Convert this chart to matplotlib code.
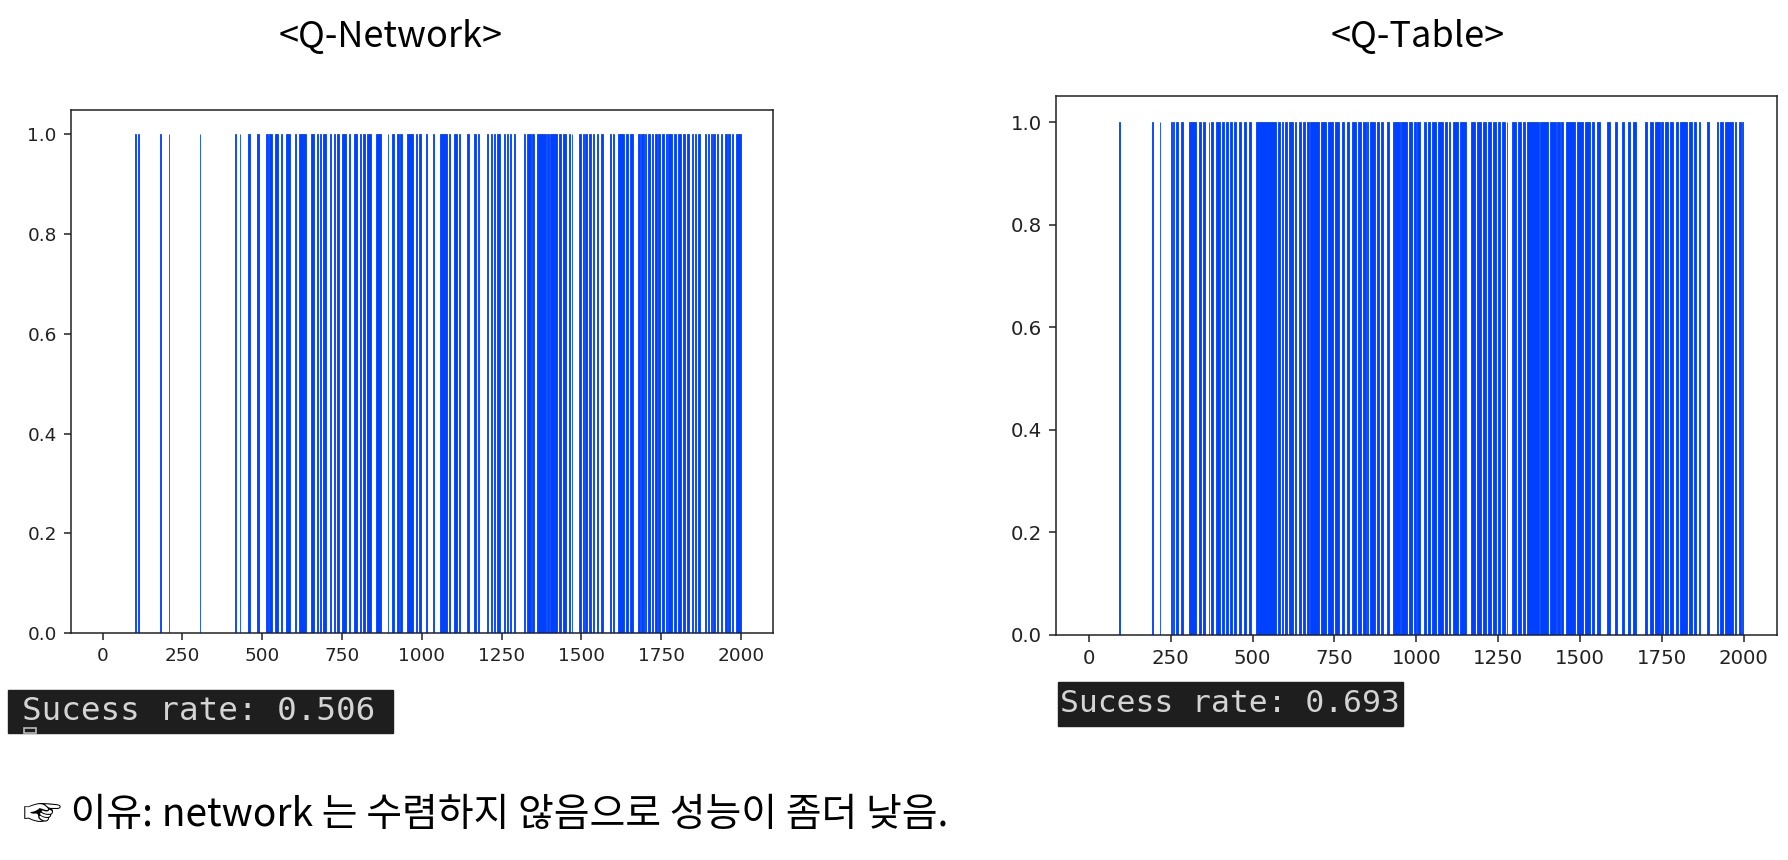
import numpy as np
import matplotlib.pyplot as plt
from matplotlib.patches import Rectangle

# success episodes, as runs (first, last episode)
qn_start = [103, 112, 180, 207, 305, 415, 430, 456, 484, 513, 523, 540, 558, 576, 603, 616,
            652, 672, 681, 691, 713, 726, 735, 751, 771, 789, 807, 817, 828, 857, 893, 908,
            922, 933, 954, 982, 993, 1012, 1034, 1056, 1085, 1100, 1116, 1141, 1163, 1176,
            1203, 1216, 1226, 1237, 1257, 1266, 1276, 1289, 1319, 1331, 1347, 1361, 1392,
            1403, 1429, 1443, 1462, 1470, 1494, 1505, 1513, 1524, 1536, 1549, 1562, 1589,
            1599, 1615, 1641, 1654, 1676, 1688, 1699, 1709, 1720, 1730, 1741, 1753, 1764,
            1772, 1791, 1804, 1820, 1832, 1846, 1856, 1867, 1886, 1896, 1906, 1914, 1924,
            1937, 1949, 1961, 1971, 1984]
qn_end = [104, 113, 181, 208, 306, 416, 431, 461, 488, 517, 529, 548, 563, 586, 606, 637,
          663, 675, 684, 698, 716, 729, 739, 763, 773, 796, 810, 820, 841, 871, 895, 911,
          927, 938, 973, 985, 996, 1015, 1037, 1078, 1088, 1109, 1119, 1148, 1169, 1179,
          1206, 1219, 1230, 1243, 1260, 1268, 1279, 1292, 1324, 1340, 1350, 1387, 1398,
          1422, 1437, 1450, 1463, 1471, 1497, 1508, 1518, 1529, 1539, 1552, 1566, 1591,
          1601, 1634, 1646, 1660, 1682, 1694, 1703, 1714, 1724, 1736, 1745, 1758, 1766,
          1784, 1795, 1812, 1823, 1837, 1850, 1859, 1871, 1890, 1899, 1909, 1917, 1928,
          1940, 1954, 1964, 1974, 1999]

qt_start = [94, 195, 217, 250, 258, 268, 281, 306, 337, 349, 366, 374, 388, 408, 419, 431,
            444, 459, 474, 489, 512, 578, 589, 599, 612, 629, 643, 655, 667, 677, 709, 731,
            751, 773, 788, 803, 823, 838, 851, 859, 879, 894, 910, 930, 955, 979, 993, 1004,
            1025, 1035, 1047, 1067, 1088, 1099, 1111, 1134, 1167, 1185, 1205, 1220, 1236,
            1251, 1262, 1276, 1293, 1312, 1327, 1338, 1378, 1409, 1431, 1443, 1457, 1490,
            1516, 1536, 1551, 1582, 1607, 1628, 1648, 1661, 1699, 1714, 1729, 1748, 1760,
            1776, 1794, 1806, 1832, 1847, 1862, 1888, 1918, 1928, 1942, 1974, 1987, 1995]
qt_end = [94, 195, 217, 253, 261, 271, 286, 327, 342, 356, 368, 378, 400, 411, 424, 436,
          449, 465, 480, 495, 572, 582, 592, 604, 622, 633, 648, 660, 671, 702, 724, 745,
          765, 780, 794, 816, 832, 845, 852, 872, 887, 899, 915, 949, 971, 987, 999, 1010,
          1028, 1040, 1060, 1081, 1093, 1104, 1127, 1150, 1179, 1198, 1213, 1228, 1244,
          1256, 1269, 1278, 1305, 1320, 1330, 1373, 1402, 1425, 1437, 1448, 1483, 1509,
          1529, 1541, 1560, 1590, 1613, 1633, 1651, 1669, 1704, 1722, 1743, 1753, 1768,
          1784, 1799, 1825, 1840, 1855, 1865, 1893, 1921, 1935, 1967, 1977, 1990, 1997]

titles = ['<Q-Network>', '<Q-Table>']
rates = ['Sucess rate: 0.506', 'Sucess rate: 0.693']
note = '☞ 이유: network 는 수렴하지 않음으로 성능이 좀더 낮음.'

W, H = 1788, 860
kr = ['Noto Sans CJK KR', 'DejaVu Sans']
blue = '#0040ff'

fig = plt.figure(figsize=(W / 100, H / 100), dpi=100)

def box(l, t, r, b):
    return [l / W, 1 - b / H, (r - l) / W, (b - t) / H]

axes = [fig.add_axes(box(70.7, 109.5, 773, 633)),
        fig.add_axes(box(1056, 96.4, 1776.6, 635))]
runs = [(qn_start, qn_end), (qt_start, qt_end)]
sizes = [13.3, 14.2]

for ax, (s, e), fs in zip(axes, runs, sizes):
    s = np.array(s)
    e = np.array(e)
    ax.bar(s - 0.4, np.ones(len(s)), width=e - s + 0.8, align='edge',
           color=blue, edgecolor=blue, linewidth=0.6)
    ax.set_xlim(-100, 2100)
    ax.set_ylim(0, 1.05)
    ax.set_xticks(np.arange(0, 2001, 250))
    ax.set_yticks(np.arange(0, 1.01, 0.2))
    ax.tick_params(labelsize=fs, length=5, width=1.1, pad=5, colors='#222222')
    for sp in ax.spines.values():
        sp.set_linewidth(1.1)
        sp.set_color('#222222')

fig.text(343 * 1.1403 / W, 1 - 36.5 / H, titles[0], family=kr, fontsize=26,
         ha='center', va='center')
fig.text(1243 * 1.1403 / W, 1 - 36.5 / H, titles[1], family=kr, fontsize=26,
         ha='center', va='center')

# terminal screenshots
fig.patches.append(Rectangle((8 / W, 1 - 733 / H), 385 / W, 43 / H,
                             transform=fig.transFigure, color='#1e1e1e', zorder=0))
fig.patches.append(Rectangle((1058 / W, 1 - 726 / H), 345 / W, 44 / H,
                             transform=fig.transFigure, color='#1e1e1e', zorder=0))
fig.patches.append(Rectangle((24 / W, 1 - 733 / H), 12 / W, 5 / H,
                             transform=fig.transFigure, fill=False,
                             edgecolor='#bbbbbb', linewidth=1.2, zorder=1))
fig.text(22 / W, 1 - 711 / H, rates[0], family='DejaVu Sans Mono', fontsize=23.4,
         color='#d4d4d4', va='center')
fig.text(1060 / W, 1 - 703 / H, rates[1], family='DejaVu Sans Mono', fontsize=22.6,
         color='#d4d4d4', va='center')

fig.text(23 / W, 1 - 815 / H, note, family=kr, fontsize=28, va='center')

fig.savefig('out.png', dpi=100)
